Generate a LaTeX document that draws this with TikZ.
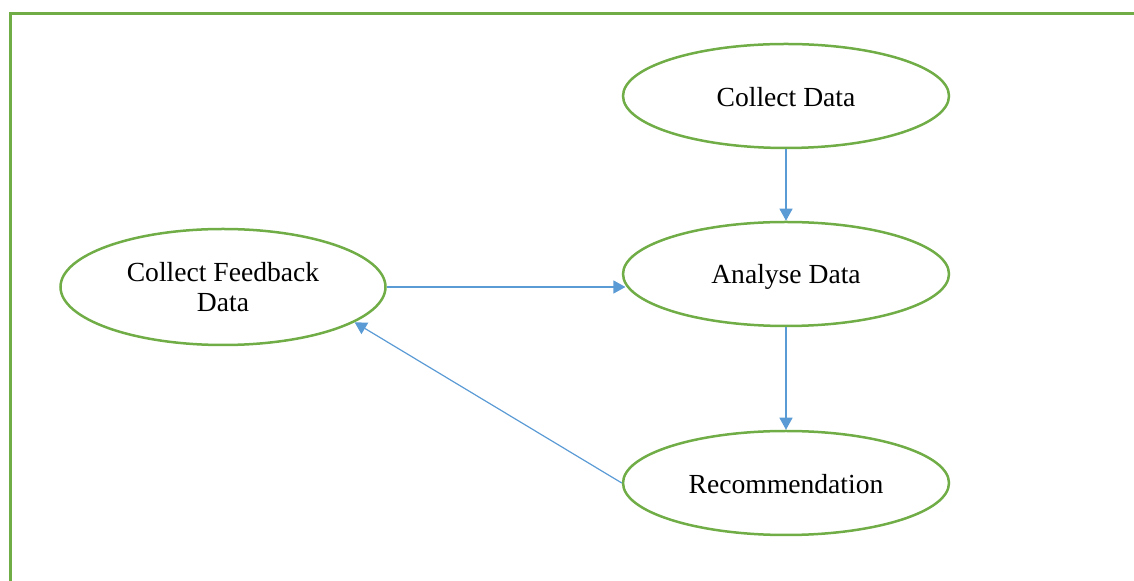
\documentclass[tikz,border=0pt]{standalone}
\usepackage{fontspec}
\setmainfont{Liberation Serif}
\usetikzlibrary{shapes.geometric,arrows.meta}
\definecolor{grn}{RGB}{112,173,71}
\definecolor{blu}{RGB}{91,155,213}
\begin{document}
\begin{tikzpicture}[x=0.5pt,y=-0.5pt,
  stage/.style={ellipse, draw=grn, line width=1.25pt, inner sep=0pt,
    minimum width=163pt, minimum height=52pt,
    font=\fontsize{13.8}{15}\selectfont, align=center},
  flow/.style={draw=blu, line width=0.6pt, -{Triangle[length=6pt,width=6.5pt]}}]
\useasboundingbox (0,0) rectangle (1134,581);
\draw[grn, line width=1.5pt] (1134,13.5) -- (10,13.5) -- (10,581);
\node[stage] (cd) at (786,96) {\raisebox{-0.5pt}[\height][\depth]{Collect Data}};
\node[stage] (ad) at (786,274) {\raisebox{-1.5pt}[\height][\depth]{Analyse Data}};
\node[stage] (rc) at (786,483) {\raisebox{-0.5pt}[\height][\depth]{Recommendation}};
\node[stage, minimum width=162.5pt, minimum height=58pt] (cf) at (223,287) {Collect Feedback\\Data};
\draw[flow] (cd.south) -- (ad.north);
\draw[flow] (ad.south) -- (rc.north);
\draw[flow] (cf.east) -- (cf.east -| ad.184);
\draw[flow] (rc.west) -- (cf.345);
\end{tikzpicture}
\end{document}
